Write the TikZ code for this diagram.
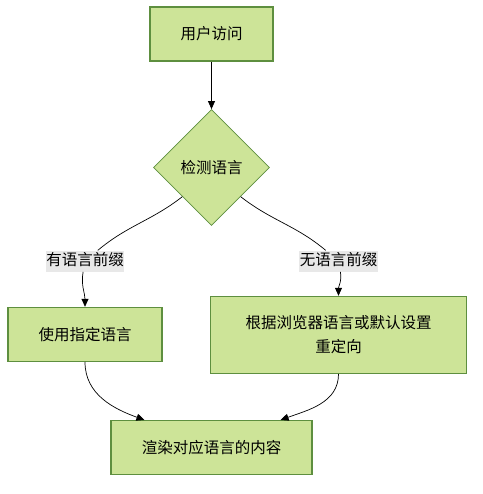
\documentclass[tikz,border=0pt]{standalone}
\usepackage{fontspec}
\setmainfont{Noto Sans CJK SC}
\usetikzlibrary{shapes.geometric, positioning, arrows.meta}

\definecolor{boxfill}{HTML}{CDE498}
\definecolor{boxline}{HTML}{5E8F3F}
\definecolor{lblfill}{HTML}{E8E8E8}

\begin{document}
\begin{tikzpicture}[every node/.style={font=\fontsize{15.5pt}{24pt}\selectfont},
    >={Triangle[length=8pt,width=7pt]},
    stepbox/.style={rectangle, draw=boxline, line width=1.2pt, fill=boxfill, align=center, inner sep=0pt},
    decision/.style={diamond, draw=boxline, line width=0.8pt, fill=boxfill, aspect=1, inner sep=0pt, minimum size=116pt},
    lbl/.style={rectangle, fill=lblfill, inner xsep=0.5pt, inner ysep=3pt, text height=11.5pt, text depth=3.5pt}]
    \useasboundingbox (0,0) rectangle (482pt,-494pt);

    \node[stepbox, minimum width=123pt, minimum height=54pt] (visit) at (211.5pt,-34pt) {用户访问};
    \node[decision, below=47.5pt of visit] (detect) {检测语言};

    \node[lbl, below=24.5pt of detect, xshift=-126.5pt] (yes) {有语言前缀};
    \node[lbl, below=24.5pt of detect, xshift=127pt] (no) {无语言前缀};

    \node[stepbox, minimum width=154pt, minimum height=54pt, below=35pt of yes] (use) {使用指定语言};
    \node[stepbox, minimum width=256pt, minimum height=77pt, below=24pt of no] (redirect) {根据浏览器语言或默认设置\\重定向};
    \node[stepbox, minimum width=201pt, minimum height=54pt, below=58pt of use, xshift=126.5pt] (render) {渲染对应语言的内容};

    \coordinate (render in1) at ([xshift=34pt]render.north west);
    \coordinate (render in2) at ([xshift=-32pt]render.north east);

    \path[line width=0.7pt]
    (visit) edge[->] (detect)
    (detect.south west) edge[out=-142, in=40] (yes)
    (yes) edge[->, out=-100, in=90] (use)
    (detect.south east) edge[out=-38, in=140] (no)
    (no) edge[->, out=-80, in=90] (redirect)
    (use.south) edge[->, out=-90, in=160] (render in1)
    (redirect.south) edge[->, out=-90, in=20] (render in2);
\end{tikzpicture}
\end{document}
